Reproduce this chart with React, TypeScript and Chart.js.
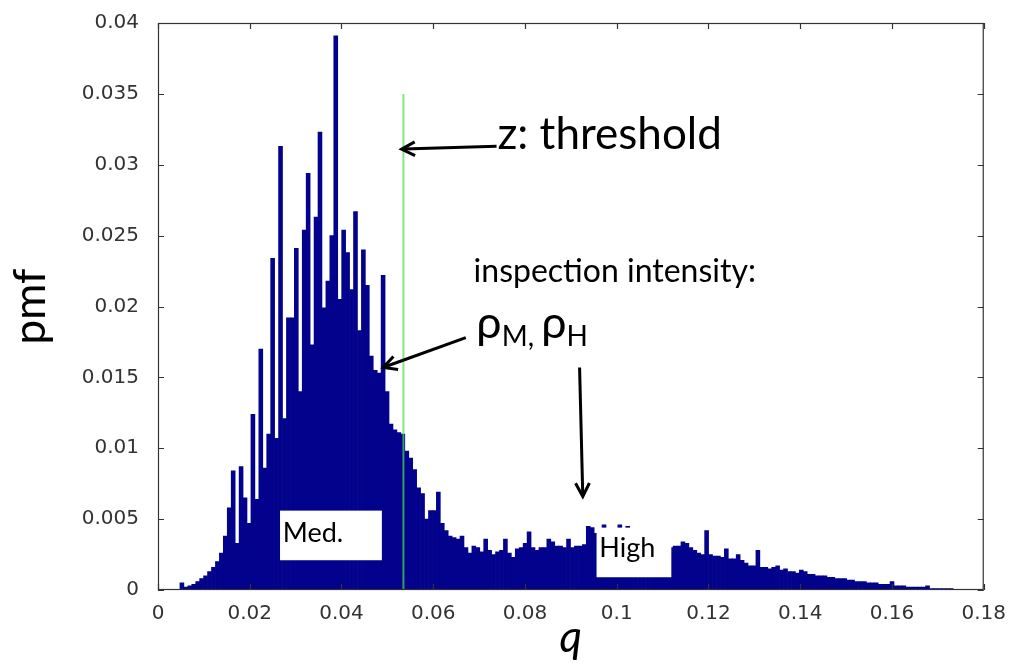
import { useEffect, useRef } from "react";
import { Chart, registerables } from "chart.js";

Chart.register(...registerables);

// Histogram of q: centre of the first bin and the common bin width
const BIN_FIRST_CENTER = 0.00521;
const BIN_WIDTH = 0.00086;

// pmf of every bin, left to right
const PMF = [
  0.0005, 0.0002, 0.0003, 0.0004, 0.0006, 0.0008, 0.0010, 0.0013, 0.0016, 0.0020,
  0.0026, 0.0038, 0.0058, 0.0084, 0.0033, 0.0087, 0.0065, 0.0047, 0.0124, 0.0064,
  0.0170, 0.0086, 0.0110, 0.0234, 0.0107, 0.0313, 0.0121, 0.0192, 0.0192, 0.0241,
  0.0140, 0.0254, 0.0294, 0.0173, 0.0263, 0.0323, 0.0199, 0.0218, 0.0250, 0.0391,
  0.0205, 0.0254, 0.0238, 0.0212, 0.0267, 0.0183, 0.0240, 0.0215, 0.0165, 0.0155,
  0.0153, 0.0222, 0.0140, 0.0117, 0.0113, 0.0111, 0.0110, 0.0098, 0.0093, 0.0085,
  0.0072, 0.0068, 0.0050, 0.0056, 0.0056, 0.0069, 0.0047, 0.0042, 0.0038, 0.0037,
  0.0036, 0.0038, 0.0030, 0.0026, 0.0031, 0.0030, 0.0027, 0.0036, 0.0028, 0.0025,
  0.0027, 0.0028, 0.0036, 0.0026, 0.0023, 0.0029, 0.0030, 0.0033, 0.0041, 0.0030,
  0.0028, 0.0030, 0.0030, 0.0036, 0.0034, 0.0031, 0.0031, 0.0030, 0.0036, 0.0030,
  0.0031, 0.0031, 0.0032, 0.0045, 0.0044, 0.0040, 0.0043, 0.0046, 0.0040, 0.0041,
  0.0043, 0.0046, 0.0040, 0.0045, 0.0038, 0.0043, 0.0036, 0.0042, 0.0037, 0.0040,
  0.0034, 0.0035, 0.0032, 0.0033, 0.0030, 0.0031, 0.0031, 0.0034, 0.0033, 0.0030,
  0.0028, 0.0026, 0.0025, 0.0042, 0.0025, 0.0024, 0.0024, 0.0023, 0.0029, 0.0022,
  0.0022, 0.0025, 0.0021, 0.0019, 0.0017, 0.0017, 0.0028, 0.0016, 0.0016, 0.0015,
  0.0016, 0.0017, 0.0014, 0.0015, 0.0013, 0.0013, 0.0012, 0.0014, 0.0013, 0.0011,
  0.0011, 0.0010, 0.0010, 0.0010, 0.0009, 0.0009, 0.0008, 0.0008, 0.0008, 0.0007,
  0.0007, 0.0006, 0.0006, 0.0006, 0.0005, 0.0005, 0.0005, 0.0004, 0.0004, 0.0004,
  0.0006, 0.0003, 0.0003, 0.0003, 0.0002, 0.0002, 0.0002, 0.0002, 0.0002, 0.0003,
  0.0001, 0.0001, 0.0001, 0.0001, 0.0001, 0.0001, 0.00005, 0.00005,
];

const X_TICKS = [0, 0.02, 0.04, 0.06, 0.08, 0.1, 0.12, 0.14, 0.16, 0.18];
const Y_TICKS = [0, 0.005, 0.01, 0.015, 0.02, 0.025, 0.03, 0.035, 0.04];

// threshold z on q and the height of its marker line
const THRESHOLD_Q = 0.0535;
const THRESHOLD_TOP = 0.035;

// region labels (white boxes) in data units
const REGION_LABELS = [
  { text: "Med.", q0: 0.0266, q1: 0.0488, p0: 0.0021, p1: 0.0056, textQ: 0.0272, textP: 0.0034 },
  { text: "High", q0: 0.0956, q1: 0.1119, p0: 0.0009, p1: 0.0044, textQ: 0.0962, textP: 0.0023 },
];

// callout arrows: from (q1, p1) to the arrow tip (q2, p2)
const ARROWS = [
  { q1: 0.0738, p1: 0.0313, q2: 0.0531, p2: 0.0311 },
  { q1: 0.0671, p1: 0.0178, q2: 0.0491, p2: 0.0157 },
  { q1: 0.0919, p1: 0.0157, q2: 0.0926, p2: 0.0066 },
];

const THRESHOLD_TEXT = { text: "z: threshold", q: 0.0740, p: 0.0311, size: 44 };
const INTENSITY_TEXT = { text: "inspection intensity:", q: 0.0688, p: 0.0217, size: 32 };
const RHO_TEXT = { q: 0.0694, p: 0.0178, size: 45, subSize: 28 };

const BAR_COLOR = "#02028c";
const LINE_COLOR = "rgba(80, 220, 80, 0.7)";
const TICK_COLOR = "#333";
const FRAME_COLOR = "#333";
const CALLOUT_FONT = "Lato, 'Open Sans', sans-serif";

const framePlugin = {
  id: "axesFrame",
  afterDatasetsDraw(chart: any) {
    const { ctx, chartArea: a, scales } = chart;
    ctx.save();
    ctx.strokeStyle = FRAME_COLOR;
    ctx.lineWidth = 1.2;
    ctx.strokeRect(a.left + 0.5, a.top + 0.5, a.right - a.left - 1, a.bottom - a.top - 1);
    const len = 6;
    ctx.beginPath();
    for (const v of X_TICKS) {
      const xp = Math.round(scales.x.getPixelForValue(v)) + 0.5;
      ctx.moveTo(xp, a.bottom);
      ctx.lineTo(xp, a.bottom - len);
      ctx.moveTo(xp, a.top);
      ctx.lineTo(xp, a.top + len);
    }
    for (const v of Y_TICKS) {
      const yp = Math.round(scales.y.getPixelForValue(v)) + 0.5;
      ctx.moveTo(a.left, yp);
      ctx.lineTo(a.left + len, yp);
      ctx.moveTo(a.right, yp);
      ctx.lineTo(a.right - len, yp);
    }
    ctx.stroke();
    ctx.restore();
  },
};

function drawArrow(ctx: CanvasRenderingContext2D, x1: number, y1: number, x2: number, y2: number) {
  const ang = Math.atan2(y2 - y1, x2 - x1);
  ctx.strokeStyle = "#000";
  ctx.lineWidth = 3;
  ctx.lineCap = "butt";
  ctx.beginPath();
  ctx.moveTo(x1, y1);
  ctx.lineTo(x2 - 2 * Math.cos(ang), y2 - 2 * Math.sin(ang));
  ctx.stroke();
  const len = 15;
  const spread = 0.48;
  ctx.lineJoin = "miter";
  ctx.beginPath();
  ctx.moveTo(x2 - len * Math.cos(ang - spread), y2 - len * Math.sin(ang - spread));
  ctx.lineTo(x2, y2);
  ctx.lineTo(x2 - len * Math.cos(ang + spread), y2 - len * Math.sin(ang + spread));
  ctx.stroke();
}

const calloutPlugin = {
  id: "callouts",
  afterDraw(chart: any) {
    const { ctx, scales } = chart;
    const px = (q: number) => scales.x.getPixelForValue(q);
    const py = (p: number) => scales.y.getPixelForValue(p);
    ctx.save();

    for (const b of REGION_LABELS) {
      ctx.fillStyle = "#fff";
      ctx.fillRect(px(b.q0), py(b.p1), px(b.q1) - px(b.q0), py(b.p0) - py(b.p1));
      ctx.fillStyle = "#000";
      ctx.font = `27px ${CALLOUT_FONT}`;
      ctx.textAlign = "left";
      ctx.textBaseline = "alphabetic";
      ctx.fillText(b.text, px(b.textQ), py(b.textP));
    }

    ctx.fillStyle = "#000";
    ctx.textAlign = "left";
    ctx.textBaseline = "alphabetic";
    ctx.font = `${THRESHOLD_TEXT.size}px ${CALLOUT_FONT}`;
    ctx.fillText(THRESHOLD_TEXT.text, px(THRESHOLD_TEXT.q), py(THRESHOLD_TEXT.p));
    ctx.font = `${INTENSITY_TEXT.size}px ${CALLOUT_FONT}`;
    ctx.fillText(INTENSITY_TEXT.text, px(INTENSITY_TEXT.q), py(INTENSITY_TEXT.p));

    // ρ_M, ρ_H with subscripts
    let cx = px(RHO_TEXT.q);
    const by = py(RHO_TEXT.p);
    const big = `${RHO_TEXT.size}px ${CALLOUT_FONT}`;
    const small = `${RHO_TEXT.subSize}px ${CALLOUT_FONT}`;
    const runs = [
      { t: "ρ", f: big, dy: 0 },
      { t: "M, ", f: small, dy: 8 },
      { t: "ρ", f: big, dy: 0 },
      { t: "H", f: small, dy: 8 },
    ];
    for (const r of runs) {
      ctx.font = r.f;
      ctx.fillText(r.t, cx, by + r.dy);
      cx += ctx.measureText(r.t).width;
    }

    for (const a of ARROWS) {
      drawArrow(ctx, px(a.q1), py(a.p1), px(a.q2), py(a.p2));
    }
    ctx.restore();
  },
};

export default function App() {
  const canvasRef = useRef<HTMLCanvasElement>(null);

  useEffect(() => {
    const canvas = canvasRef.current;
    if (!canvas) return;
    const bars = PMF.map((v, i) => ({ x: BIN_FIRST_CENTER + i * BIN_WIDTH, y: v }));
    const tickFont = { family: "'DejaVu Sans', sans-serif", size: 20 };

    const chart = new Chart(canvas, {
      type: "bar",
      data: {
        datasets: [
          {
            type: "line",
            label: "z",
            data: [
              { x: THRESHOLD_Q, y: 0 },
              { x: THRESHOLD_Q, y: THRESHOLD_TOP },
            ],
            borderColor: LINE_COLOR,
            borderWidth: 2,
            pointRadius: 0,
            order: 0,
          } as any,
          {
            type: "bar",
            label: "pmf",
            data: bars,
            backgroundColor: BAR_COLOR,
            borderWidth: 0,
            barPercentage: 1,
            categoryPercentage: 1,
            order: 1,
          } as any,
        ],
      },
      options: {
        animation: false,
        responsive: false,
        layout: { padding: { left: 0, top: 18, right: 25, bottom: 0 } },
        plugins: { legend: { display: false }, tooltip: { enabled: false } },
        scales: {
          x: {
            type: "linear",
            min: 0,
            max: 0.18,
            offset: false,
            grid: { display: false, offset: false },
            border: { display: false },
            afterBuildTicks: (s: any) => {
              s.ticks = X_TICKS.map((value) => ({ value }));
            },
            afterFit: (s: any) => {
              s.height = 74;
            },
            ticks: {
              autoSkip: false,
              maxRotation: 0,
              padding: 4,
              color: TICK_COLOR,
              font: tickFont,
              callback: (v: any) => String(v),
            },
            title: {
              display: true,
              text: "q",
              color: "#000",
              font: { family: CALLOUT_FONT, size: 44, style: "italic" },
              padding: { top: 0, bottom: 0 },
            },
          },
          y: {
            type: "linear",
            min: 0,
            max: 0.04,
            grid: { display: false },
            border: { display: false },
            afterBuildTicks: (s: any) => {
              s.ticks = Y_TICKS.map((value) => ({ value }));
            },
            afterFit: (s: any) => {
              s.width = 158;
            },
            ticks: {
              autoSkip: false,
              padding: 11,
              color: TICK_COLOR,
              font: tickFont,
              callback: (v: any) => String(v),
            },
            title: {
              display: true,
              text: "pmf",
              color: "#000",
              font: { family: CALLOUT_FONT, size: 44 },
              padding: { top: 4, bottom: 0 },
            },
          },
        },
      } as any,
      plugins: [framePlugin, calloutPlugin],
    });

    return () => chart.destroy();
  }, []);

  return (
    <div style={{ position: "absolute", left: 0, top: 0, width: 1010, height: 664, background: "#fff" }}>
      <canvas ref={canvasRef} width={1010} height={664} style={{ display: "block" }} />
    </div>
  );
}
